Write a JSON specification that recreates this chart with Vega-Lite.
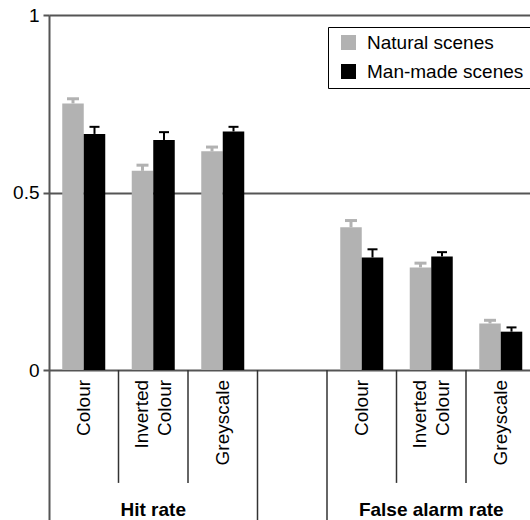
{
  "$schema": "https://vega.github.io/schema/vega-lite/v6.json",
  "autosize": "none",
  "padding": {"left": 49, "top": 15, "right": 0, "bottom": 0},
  "width": 486.5,
  "height": 505,
  "background": "white",
  "config": {
    "font": "Liberation Sans",
    "view": {"stroke": null}
  },
  "datasets": {
    "bars": [
      {"slot": "H1", "scene": "Natural scenes", "value": 0.751, "upper": 0.764},
      {"slot": "H1", "scene": "Man-made scenes", "value": 0.665, "upper": 0.685},
      {"slot": "H2", "scene": "Natural scenes", "value": 0.561, "upper": 0.577},
      {"slot": "H2", "scene": "Man-made scenes", "value": 0.648, "upper": 0.670},
      {"slot": "H3", "scene": "Natural scenes", "value": 0.616, "upper": 0.628},
      {"slot": "H3", "scene": "Man-made scenes", "value": 0.672, "upper": 0.685},
      {"slot": "F1", "scene": "Natural scenes", "value": 0.402, "upper": 0.421},
      {"slot": "F1", "scene": "Man-made scenes", "value": 0.317, "upper": 0.340},
      {"slot": "F2", "scene": "Natural scenes", "value": 0.289, "upper": 0.301},
      {"slot": "F2", "scene": "Man-made scenes", "value": 0.320, "upper": 0.332},
      {"slot": "F3", "scene": "Natural scenes", "value": 0.131, "upper": 0.140},
      {"slot": "F3", "scene": "Man-made scenes", "value": 0.108, "upper": 0.120}
    ],
    "labels1": [
      {"slot": "H1", "label": "Colour"},
      {"slot": "H3", "label": "Greyscale"},
      {"slot": "F1", "label": "Colour"},
      {"slot": "F3", "label": "Greyscale"}
    ],
    "labels2": [
      {"slot": "H2", "label": "Inverted\nColour"},
      {"slot": "F2", "label": "Inverted\nColour"}
    ],
    "inner": [
      {"slot": "H2"}, {"slot": "H3"}, {"slot": "F2"}, {"slot": "F3"}
    ],
    "outer": [
      {"slot": "gap"}, {"slot": "F1"}
    ],
    "groups": [
      {"slot": "H2", "label": "Hit rate"},
      {"slot": "F2", "label": "False alarm rate"}
    ]
  },
  "encoding": {
    "x": {
      "field": "slot", "type": "nominal",
      "scale": {"domain": ["H1", "H2", "H3", "gap", "F1", "F2", "F3"], "paddingInner": 0, "paddingOuter": 0},
      "axis": null
    },
    "xOffset": {"field": "scene", "type": "nominal", "scale": {"domain": ["Natural scenes", "Man-made scenes"], "paddingInner": 0, "paddingOuter": 0.616}}
  },
  "layer": [
    {
      "data": {"name": "bars"},
      "mark": {"type": "bar"},
      "encoding": {
        "y": {
          "field": "value", "type": "quantitative",
          "scale": {"domain": [-0.4225, 1], "nice": false, "zero": false},
          "axis": {
            "values": [0, 0.5, 1], "format": "~g", "title": null,
            "grid": true, "gridColor": "#555555", "gridWidth": 2, "gridOpacity": 1,
            "domainColor": "#555555", "domainWidth": 2,
            "tickColor": "#555555", "tickWidth": 2, "tickSize": 6,
            "labelFontSize": 19, "labelColor": "black", "labelPadding": 4
          }
        },
        "y2": {"datum": 0},
        "color": {
          "field": "scene", "type": "nominal",
          "scale": {"domain": ["Natural scenes", "Man-made scenes"], "range": ["#b2b2b2", "#000000"]},
          "legend": {
            "title": null, "orient": "none", "legendX": 279, "legendY": 12,
            "direction": "vertical",
            "strokeColor": "black", "fillColor": "white",
            "padding": 6, "symbolOffset": 5,
            "symbolType": "square", "symbolSize": 225, "symbolStrokeWidth": 0,
            "labelFontSize": 19, "labelColor": "black", "labelOffset": 9,
            "rowPadding": 9, "labelLimit": 300
          }
        }
      }
    },
    {
      "data": {"name": "bars"},
      "transform": [{"filter": "datum.scene === 'Natural scenes'"}],
      "mark": {"type": "rule", "color": "#b2b2b2", "strokeWidth": 3},
      "encoding": {
        "y": {"field": "value", "type": "quantitative"},
        "y2": {"field": "upper"}
      }
    },
    {
      "data": {"name": "bars"},
      "transform": [{"filter": "datum.scene === 'Man-made scenes'"}],
      "mark": {"type": "rule", "color": "#000000", "strokeWidth": 2},
      "encoding": {
        "y": {"field": "value", "type": "quantitative"},
        "y2": {"field": "upper"}
      }
    },
    {
      "data": {"name": "bars"},
      "transform": [{"filter": "datum.scene === 'Natural scenes'"}],
      "mark": {"type": "tick", "thickness": 3, "size": 12, "orient": "horizontal", "color": "#b2b2b2", "opacity": 1},
      "encoding": {
        "y": {"field": "upper", "type": "quantitative"}
      }
    },
    {
      "data": {"name": "bars"},
      "transform": [{"filter": "datum.scene === 'Man-made scenes'"}],
      "mark": {"type": "tick", "thickness": 2, "size": 10, "orient": "horizontal", "color": "#000000", "opacity": 1},
      "encoding": {
        "y": {"field": "upper", "type": "quantitative"}
      }
    },
    {
      "data": {"name": "inner"},
      "mark": {"type": "rule", "color": "#333333", "strokeWidth": 1.5},
      "encoding": {
        "x": {"field": "slot", "type": "nominal", "bandPosition": 0},
        "xOffset": null,
        "y": {"datum": 0},
        "y2": {"datum": -0.318}
      }
    },
    {
      "data": {"name": "outer"},
      "mark": {"type": "rule", "color": "#333333", "strokeWidth": 1.5},
      "encoding": {
        "x": {"field": "slot", "type": "nominal", "bandPosition": 0},
        "xOffset": null,
        "y": {"datum": 0},
        "y2": {"datum": -0.4225}
      }
    },
    {
      "data": {"name": "labels1"},
      "mark": {"type": "text", "angle": 270, "align": "right", "baseline": "middle", "fontSize": 19, "color": "black"},
      "encoding": {
        "xOffset": null,
        "y": {"datum": -0.028},
        "text": {"field": "label", "type": "nominal"}
      }
    },
    {
      "data": {"name": "labels2"},
      "mark": {"type": "text", "angle": 270, "align": "right", "baseline": "middle", "fontSize": 19, "lineHeight": 23, "lineBreak": "\n", "dy": -11.5, "color": "black"},
      "encoding": {
        "xOffset": null,
        "y": {"datum": -0.028},
        "text": {"field": "label", "type": "nominal"}
      }
    },
    {
      "data": {"name": "groups"},
      "mark": {"type": "text", "align": "center", "baseline": "middle", "fontSize": 19, "fontWeight": "bold", "color": "black"},
      "encoding": {
        "xOffset": null,
        "y": {"datum": -0.394},
        "text": {"field": "label", "type": "nominal"}
      }
    }
  ]
}
